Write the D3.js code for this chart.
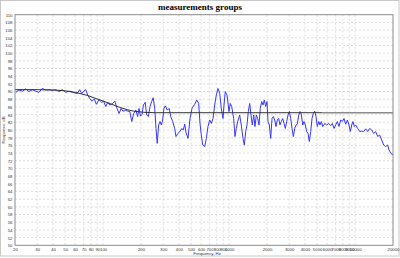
<!DOCTYPE html>
<html>
<head>
<meta charset="utf-8">
<script src="https://cdn.jsdelivr.net/npm/d3@7"></script>
<style>
  body { margin: 0; background: #fff; }
  svg { display: block; }
</style>
</head>
<body>
<div id="chart"></div>
<script>
const WIDTH = 400;
const HEIGHT = 258;

// data
const measFreq = [20.3,21.5,22.9,24.3,25.8,27.4,29.2,31.0,32.9,35.1,37.2,39.5,42.1,44.7,47.5,50.5,53.7,57.0,62.4,
  65.2,67.7,70.2,72.8,75.5,78.3,81.7,85.2,88.4,92.8,97.5,101,105,109,113,118,124,129,134,139,144,151,157,163,169,175,182,188,193,
  198,204,209,216,222,229,236,243,250,257,263,269,276,283,290,297,304,312,323,335,344,357,370,379,393,408,423,433,445,455,472,490,508,534,554,574,588,602,618,
  641,660,680,702,723,746,769,792,817,843,868,895,912,933,963,999,1023,1049,1088,1114,1141,1171,1214,1250,1290,1321,1355,1388,1421,1458,1493,1529,1568,1606,1645,1687,1728,1769,1815,1859,1904,1953,
  2000,2037,2086,2140,2192,2244,2303,2358,2415,2478,2537,2598,2665,2729,2795,2867,2937,3007,3085,3159,3235,3319,3399,3481,3571,3657,3745,3842,3934,4029,4133,4233,4334,4447,4554,4664,4784,4899,5017,5147,5271,5398,5538,5744,5958,6180,
  6410,6600,6807,7016,7228,7456,7691,7921,8170,8428,8678,8952,9167,9405,9628,9861,10117,10492,10882,11287,11707,12143,12594,13062,13548,14052,14575,15117,15679,16262,16867,17495,18146,18583,19275,20000];

const measDb = [89.8,90.4,90.1,90.7,90.0,90.5,90.1,89.8,90.8,90.4,90.5,90.3,90.5,90.0,90.5,89.8,90.1,89.8,89.5,
  90.5,89.5,90.1,90.5,89.1,88.2,87.5,88.1,86.7,87.9,87.2,87.5,86.1,87.2,86.5,86.8,87.5,85.6,84.3,85.6,84.9,85.1,84.9,84.8,82.2,84.3,85.2,83.5,85.6,
  83.6,84.1,86.5,87.2,83.9,83.5,86.1,87.4,88.4,85.6,80.4,76.5,81.3,82.2,81.3,82.6,85.6,86.3,85.2,85.6,83.5,82.2,80.4,78.3,79.1,79.7,80.4,80.0,81.5,79.4,77.8,83.0,85.6,86.7,87.8,86.9,81.7,78.7,76.1,
  75.7,77.8,80.9,82.6,81.7,83.0,86.5,89.1,90.8,89.5,85.6,83.0,86.5,90.0,89.1,84.8,86.9,86.1,83.0,78.3,80.4,82.2,83.9,81.3,77.8,76.1,79.6,81.3,84.8,86.9,83.9,81.3,83.9,80.9,83.9,83.0,81.3,85.6,87.4,86.5,87.8,86.1,
  87.4,82.2,81.3,77.8,83.0,83.5,82.6,80.9,82.6,83.0,81.3,82.2,83.0,81.7,80.4,82.2,83.9,84.8,83.0,80.4,78.3,80.4,81.3,81.5,83.9,84.8,84.1,81.3,82.2,81.3,79.6,79.1,77.0,79.6,83.0,84.3,84.9,83.5,80.9,82.2,81.3,82.2,80.9,81.7,81.3,81.7,
  81.1,81.7,80.4,81.3,82.2,80.9,82.6,82.2,83.0,81.5,82.6,81.3,79.6,81.3,82.2,80.9,81.3,80.4,79.6,79.7,79.6,80.3,79.6,80.4,80.0,79.1,79.6,78.3,78.7,77.4,76.1,75.7,76.1,74.8,73.9,73.5];

// target curve (black) and its flat continuation (gray)
const targetFreq = [20,30,40,50,60,75,95,115,135,155,175,210,260,5500];
const targetDb = [90.5,90.5,90.4,90.2,89.8,89.0,87.8,86.8,85.9,85.3,84.9,84.6,84.5,84.5];
const flatFreq = [5500,20000];
const flatDb = [84.5,84.5];

const xTicks = [20,30,40,50,60,70,80,90,100,200,300,400,500,600,700,800,900,1000,
  2000,3000,4000,5000,6000,7000,8000,9000,10000,20000];
const yTicks = [50,52,54,56,58,60,62,64,66,68,70,72,74,76,78,80,82,84,86,88,90,
  92,94,96,98,100,102,104,106,108,110];

const margin = {top: 14.7, right: 7, bottom: 12.7, left: 15};

const svg = d3.select("#chart").append("svg")
  .attr("width", WIDTH)
  .attr("height", HEIGHT);

svg.append("rect")
  .attr("x", 0.5).attr("y", 0.5)
  .attr("width", WIDTH - 1.5).attr("height", HEIGHT - 2.5)
  .attr("fill", "#fff")
  .attr("stroke", "#c8c8c8");

const iw = WIDTH - margin.left - margin.right;
const ih = HEIGHT - margin.top - margin.bottom;

const x = d3.scaleLog().domain([20, 20000]).range([0, iw]);
const y = d3.scaleLinear().domain([50, 110]).range([ih, 0]);

const g = svg.append("g")
  .attr("transform", `translate(${margin.left},${margin.top})`);

// grid
g.append("g").selectAll("line")
  .data(xTicks.slice(1, -1))
  .join("line")
  .attr("x1", d => x(d)).attr("x2", d => x(d))
  .attr("y1", 0).attr("y2", ih)
  .attr("stroke", "#d6d6d6")
  .attr("stroke-dasharray", "2,2")
  .attr("stroke-width", 0.8);

g.append("g").selectAll("line")
  .data(yTicks.slice(1, -1))
  .join("line")
  .attr("x1", 0).attr("x2", iw)
  .attr("y1", d => y(d)).attr("y2", d => y(d))
  .attr("stroke", "#d6d6d6")
  .attr("stroke-dasharray", "2,2")
  .attr("stroke-width", 0.8);

// axes labels
const xAxis = d3.axisBottom(x).tickValues(xTicks).tickFormat(d3.format("d")).tickSize(0).tickPadding(2.5);
g.append("g")
  .attr("transform", `translate(0,${ih})`)
  .call(xAxis)
  .call(a => a.select(".domain").remove())
  .selectAll("text")
  .attr("font-family", "Liberation Sans, Arial, sans-serif")
  .attr("font-size", 4.3)
  .attr("fill", "#333");

const yAxis = d3.axisLeft(y).tickValues(yTicks).tickSize(0).tickPadding(2.5);
g.append("g")
  .call(yAxis)
  .call(a => a.select(".domain").remove())
  .selectAll("text")
  .attr("font-family", "Liberation Sans, Arial, sans-serif")
  .attr("font-size", 4.3)
  .attr("fill", "#333");

// curves
const line = d3.line()
  .x(d => x(d[0]))
  .y(d => y(d[1]));

g.append("path")
  .datum(flatFreq.map((f, i) => [f, flatDb[i]]))
  .attr("fill", "none")
  .attr("stroke", "#8c8c8c")
  .attr("stroke-width", 1.4)
  .attr("d", line);

g.append("path")
  .datum(measFreq.map((f, i) => [f, measDb[i]]))
  .attr("fill", "none")
  .attr("stroke", "#3636ff")
  .attr("stroke-width", 1)
  .attr("stroke-linejoin", "round")
  .attr("d", line);

g.append("path")
  .datum(targetFreq.map((f, i) => [f, targetDb[i]]))
  .attr("fill", "none")
  .attr("stroke", "#333")
  .attr("stroke-width", 1)
  .attr("d", line);

// plot frame
g.append("rect")
  .attr("width", iw).attr("height", ih)
  .attr("fill", "none")
  .attr("stroke", "#8a8a8a")
  .attr("stroke-width", 1);

// titles
svg.append("text")
  .attr("x", WIDTH / 2).attr("y", 10)
  .attr("text-anchor", "middle")
  .attr("font-family", "Liberation Serif, Times New Roman, serif")
  .attr("font-weight", "bold")
  .attr("font-size", 9)
  .text("measurements groups");

svg.append("text")
  .attr("x", margin.left + iw / 2 + 3).attr("y", 255)
  .attr("text-anchor", "middle")
  .attr("font-family", "Liberation Sans, Arial, sans-serif")
  .attr("font-size", 4.3)
  .attr("fill", "#333")
  .text("Frequency, Hz");

svg.append("text")
  .attr("transform", `translate(4.5,${margin.top + ih / 2}) rotate(-90)`)
  .attr("text-anchor", "middle")
  .attr("font-family", "Liberation Sans, Arial, sans-serif")
  .attr("font-size", 4.3)
  .attr("fill", "#333")
  .text("Response, dB");
</script>
</body>
</html>
